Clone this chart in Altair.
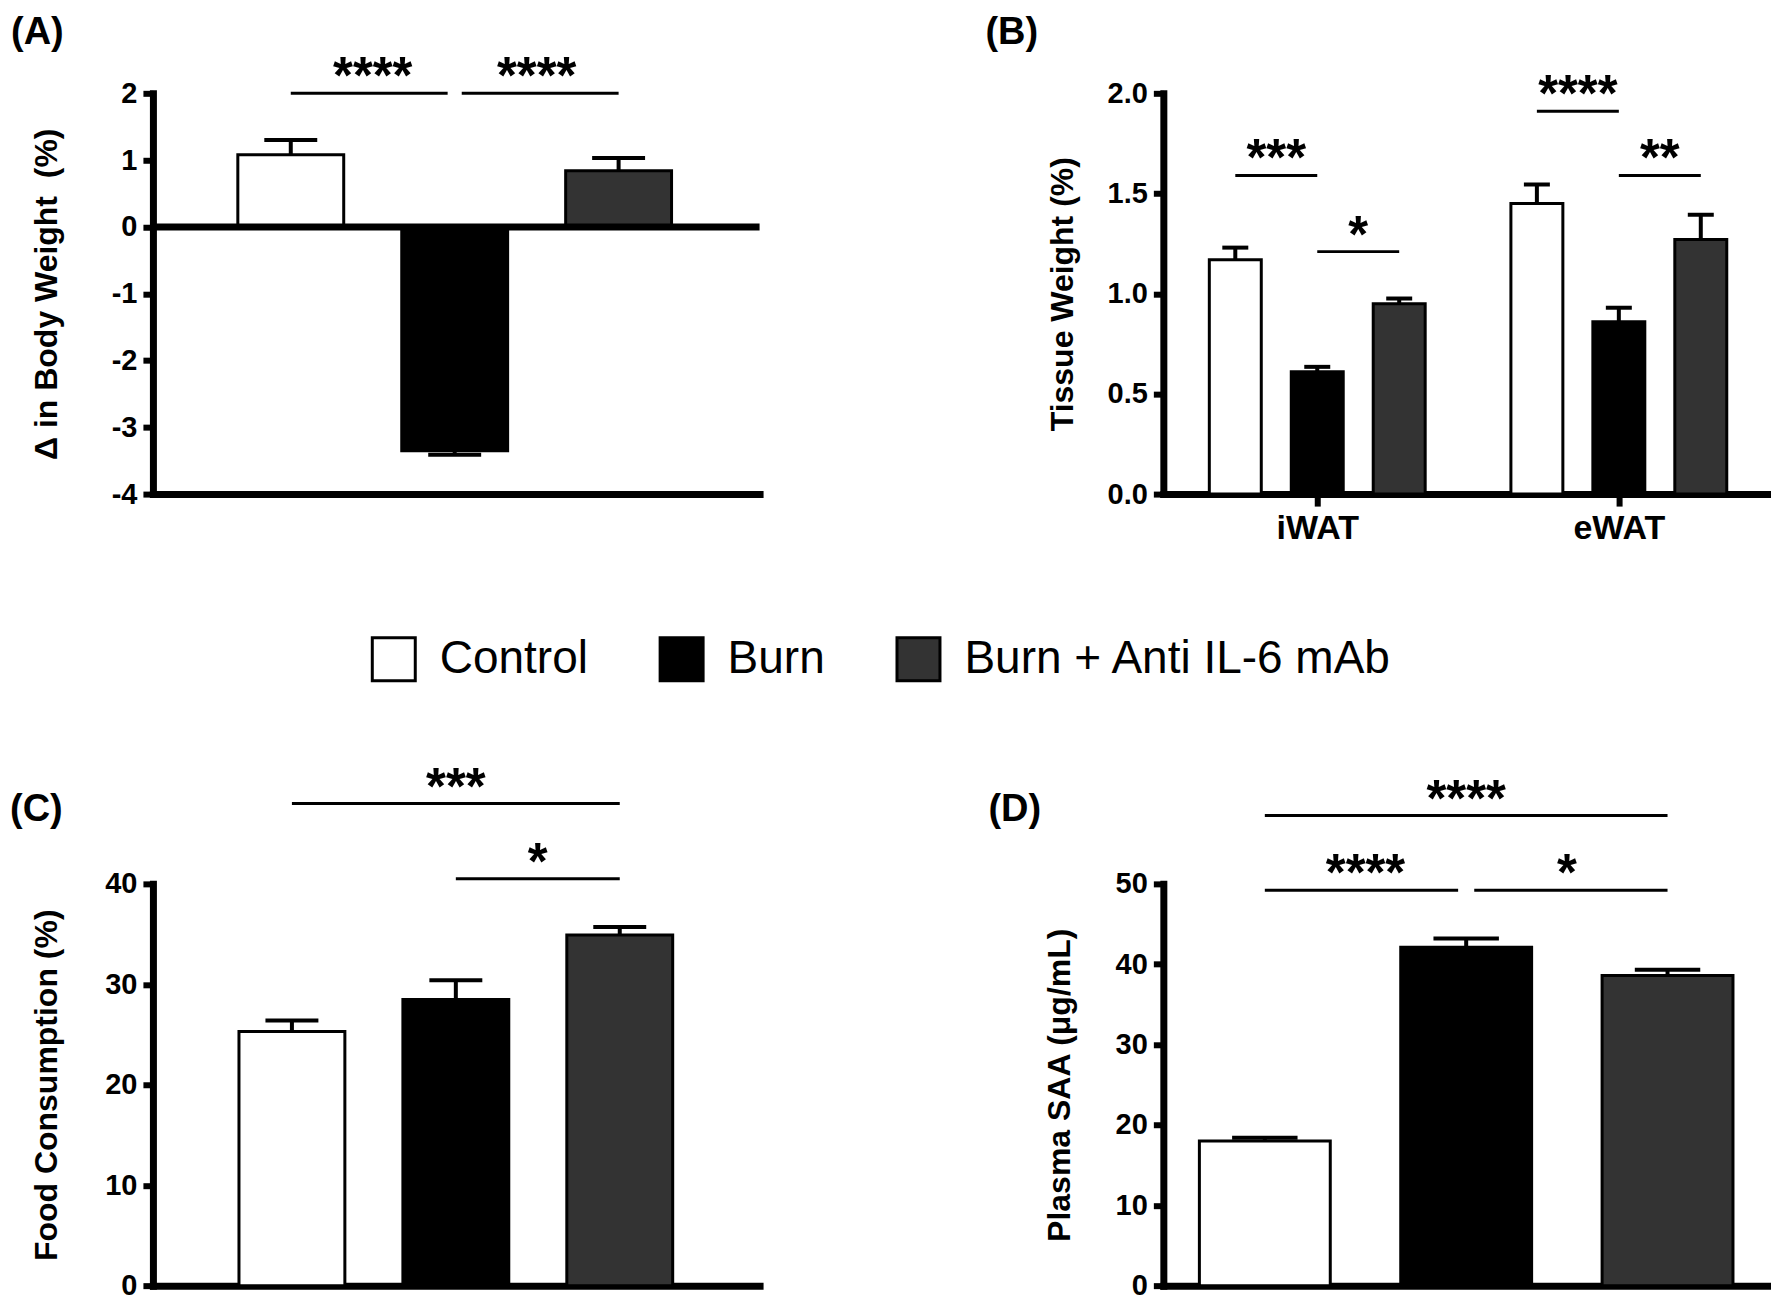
import altair as alt
import pandas as pd

# ---------------- data ----------------
GROUPS = ["Control", "Burn", "Burn + Anti IL-6 mAb"]
FILLS = ["#ffffff", "#000000", "#333333"]

# (A) change in body weight (%)
A_MEAN = [1.08, -3.35, 0.84]
A_SEM = [0.22, 0.06, 0.19]
A_TICKS = [-4, -3, -2, -1, 0, 1, 2]

# (B) tissue weight (%)
B_TISSUES = ["iWAT", "eWAT"]
B_MEAN_IWAT = [1.17, 0.61, 0.95]
B_SEM_IWAT = [0.06, 0.025, 0.026]
B_MEAN_EWAT = [1.45, 0.86, 1.27]
B_SEM_EWAT = [0.095, 0.07, 0.124]
B_TICKS = [0.0, 0.5, 1.0, 1.5, 2.0]

# (C) food consumption (%)
C_MEAN = [25.3, 28.5, 34.9]
C_SEM = [1.1, 1.9, 0.8]
C_TICKS = [0, 10, 20, 30, 40]

# (D) plasma SAA (ug/mL)
D_MEAN = [18.0, 42.1, 38.6]
D_SEM = [0.4, 1.1, 0.7]
D_TICKS = [0, 10, 20, 30, 40, 50]

# significance brackets: (from group, to group, bracket level, stars)
A_SIG = [(0, 1, 2.0, "****"), (1, 2, 2.0, "****")]
B_SIG_IWAT = [(0, 1, 1.59, "***"), (1, 2, 1.21, "*")]
B_SIG_EWAT = [(0, 1, 1.91, "****"), (1, 2, 1.59, "**")]
C_SIG = [(0, 2, 48.0, "***"), (1, 2, 40.5, "*")]
D_SIG = [(0, 2, 58.5, "****"), (0, 1, 49.2, "****"), (1, 2, 49.2, "*")]

# ---------------- layout constants ----------------
FONT = "Liberation Sans"
B_GROUP_STEP = 3.68  # distance between iWAT and eWAT clusters (in bar steps)
HYPHEN_LABELS = "datum.value < 0 ? '-' + abs(datum.value) : '' + datum.value"


def bar_frame(pos, mean, sem, hw):
    rows = []
    for p, g, m, s in zip(pos, GROUPS * 2, mean, sem):
        end = m + s if m >= 0 else m - s
        rows.append(dict(group=g, left=p - hw, right=p + hw, mean=m, base=0,
                         err=end, capL=p - hw / 2, capR=p + hw / 2))
    return pd.DataFrame(rows)


def sig_frame(sig, pos, gap):
    rows = []
    for i, (a, b, lvl, stars) in enumerate(sig):
        x1, x2 = pos[a], pos[b]
        # trim where two brackets at the same level meet
        for j, (a2, b2, l2, _) in enumerate(sig):
            if j != i and l2 == lvl:
                if pos[b2] == x1:
                    x1 += gap
                if pos[a2] == x2:
                    x2 -= gap
        rows.append(dict(x1=x1, x2=x2, mid=(pos[a] + pos[b]) / 2, level=lvl, stars=stars))
    return pd.DataFrame(rows)


def panel(bars_df, sig_df, label, label_xy, xdom, ydom, yticks, ylabel_expr, ytitle,
          title_x, width, height, xaxis, zero_line=False):
    xs = alt.Scale(domain=xdom, nice=False, zero=False)
    ys = alt.Scale(domain=ydom, nice=False, zero=False)
    yaxis = alt.Axis(values=yticks, labelExpr=ylabel_expr, title=ytitle, titleX=title_x,
                     titleAngle=270, titleBaseline="alphabetic")

    def X(f):
        return alt.X(f, type="quantitative", scale=xs, axis=xaxis)

    def Y(f):
        return alt.Y(f, type="quantitative", scale=ys, axis=yaxis)

    bars = alt.Chart(bars_df).mark_rect(stroke="black", strokeWidth=3).encode(
        x=X("left"), x2="right:Q", y=Y("mean"), y2="base:Q",
        fill=alt.Fill("group:N", scale=alt.Scale(domain=GROUPS, range=FILLS),
                      legend=alt.Legend(
                          title=None, orient="none", legendX=218, legendY=543,
                          direction="horizontal", symbolType="square", symbolSize=1849,
                          symbolStrokeColor="black", symbolStrokeWidth=3,
                          labelFont=FONT, labelFontSize=46, labelColor="black",
                          labelOffset=23, columnPadding=65, labelLimit=1000, padding=0)),
    )
    err = alt.Chart(bars_df).mark_rule(color="black", strokeWidth=4).encode(
        x=X("capL"), x2="capR:Q", y=Y("err"))
    errv = alt.Chart(bars_df).transform_calculate(
        cx="(datum.left + datum.right) / 2").mark_rule(color="black", strokeWidth=4).encode(
        x=X("cx"), y=Y("mean"), y2="err:Q")
    sig_line = alt.Chart(sig_df).mark_rule(color="black", strokeWidth=3).encode(
        x=X("x1"), x2="x2:Q", y=Y("level"))
    sig_text = alt.Chart(sig_df).mark_text(
        font=FONT, fontSize=51, fontWeight="bold", baseline="alphabetic", align="center",
        color="black").encode(x=X("mid"), y=Y("level"), text="stars:N")
    lab = alt.Chart(pd.DataFrame({"t": [label]})).mark_text(
        font=FONT, fontSize=38, fontWeight="bold", align="left", baseline="alphabetic",
        color="black").encode(x=alt.value(label_xy[0]), y=alt.value(label_xy[1]), text="t:N")
    layers = [bars, errv, err]
    if zero_line:
        zl = alt.Chart(pd.DataFrame({"base": [0]})).mark_rule(
            color="black", strokeWidth=7).encode(y=Y("base"))
        layers.append(zl)
    layers += [sig_line, sig_text, lab]
    return alt.layer(*layers).properties(width=width, height=height)


no_x = alt.Axis(ticks=False, labels=False, title=None, grid=False)

# (A)
posA = [0, 1, 2]
chartA = panel(bar_frame(posA, A_MEAN, A_SEM, 0.323), sig_frame(A_SIG, posA, 0.043),
               "(A)", (-142, -49), [-0.841, 2.86], [-4, 2], A_TICKS, HYPHEN_LABELS,
               "\u0394 in Body Weight\u00a0 (%)", -96, 607, 401, no_x, zero_line=True)

# (B)
posB = [0, 1, 2, B_GROUP_STEP, B_GROUP_STEP + 1, B_GROUP_STEP + 2]
bdf = bar_frame(posB, B_MEAN_IWAT + B_MEAN_EWAT, B_SEM_IWAT + B_SEM_EWAT, 0.317)
bsig = pd.concat([sig_frame(B_SIG_IWAT, posB[:3], 0.0), sig_frame(B_SIG_EWAT, posB[3:], 0.0)])
b_xaxis = alt.Axis(values=[1, B_GROUP_STEP + 1],
                   labelExpr=f"datum.value < 2.5 ? '{B_TISSUES[0]}' : '{B_TISSUES[1]}'",
                   ticks=True, tickSize=12, labelFontSize=34, labelPadding=5,
                   title=None, grid=False, labelFlush=False)
chartB = panel(bdf, bsig, "(B)", (-178, -49), [-0.878, 6.488], [0, 2], B_TICKS,
               "format(datum.value, '.1f')",
               "Tissue Weight (%)", -91, 604, 401, b_xaxis)

# (C)
posC = [0, 1, 2]
chartC = panel(bar_frame(posC, C_MEAN, C_SEM, 0.323), sig_frame(C_SIG, posC, 0.043),
               "(C)", (-143, -63), [-0.848, 2.853], [0, 40], C_TICKS, HYPHEN_LABELS,
               "Food Consumption (%)", -96, 607, 402, no_x)

# (D)
posD = [0, 1, 2]
chartD = panel(bar_frame(posD, D_MEAN, D_SEM, 0.325), sig_frame(D_SIG, posD, 0.04),
               "(D)", (-175, -63), [-0.504, 2.494], [0, 50], D_TICKS, HYPHEN_LABELS,
               "Plasma SAA (\u03bcg/mL)", -94, 604, 402, no_x)

chart = alt.concat(
    chartA, chartB, chartC, chartD, columns=2,
    spacing={"row": 390, "column": 404}, bounds="flush",
).properties(
    padding={"left": 2, "top": 6, "right": 5, "bottom": 5},
    background="white",
).configure_view(strokeWidth=0).configure_axis(
    domainColor="black", domainWidth=7, domainCap="square",
    tickColor="black", tickWidth=6, tickSize=10,
    labelFont=FONT, labelFontSize=29, labelFontWeight="bold", labelColor="black",
    labelPadding=6, titleFont=FONT, titleFontSize=32, titleFontWeight="bold",
    titleColor="black", grid=False,
)

chart.save("out.html", embed_options={"renderer": "svg", "actions": False})
